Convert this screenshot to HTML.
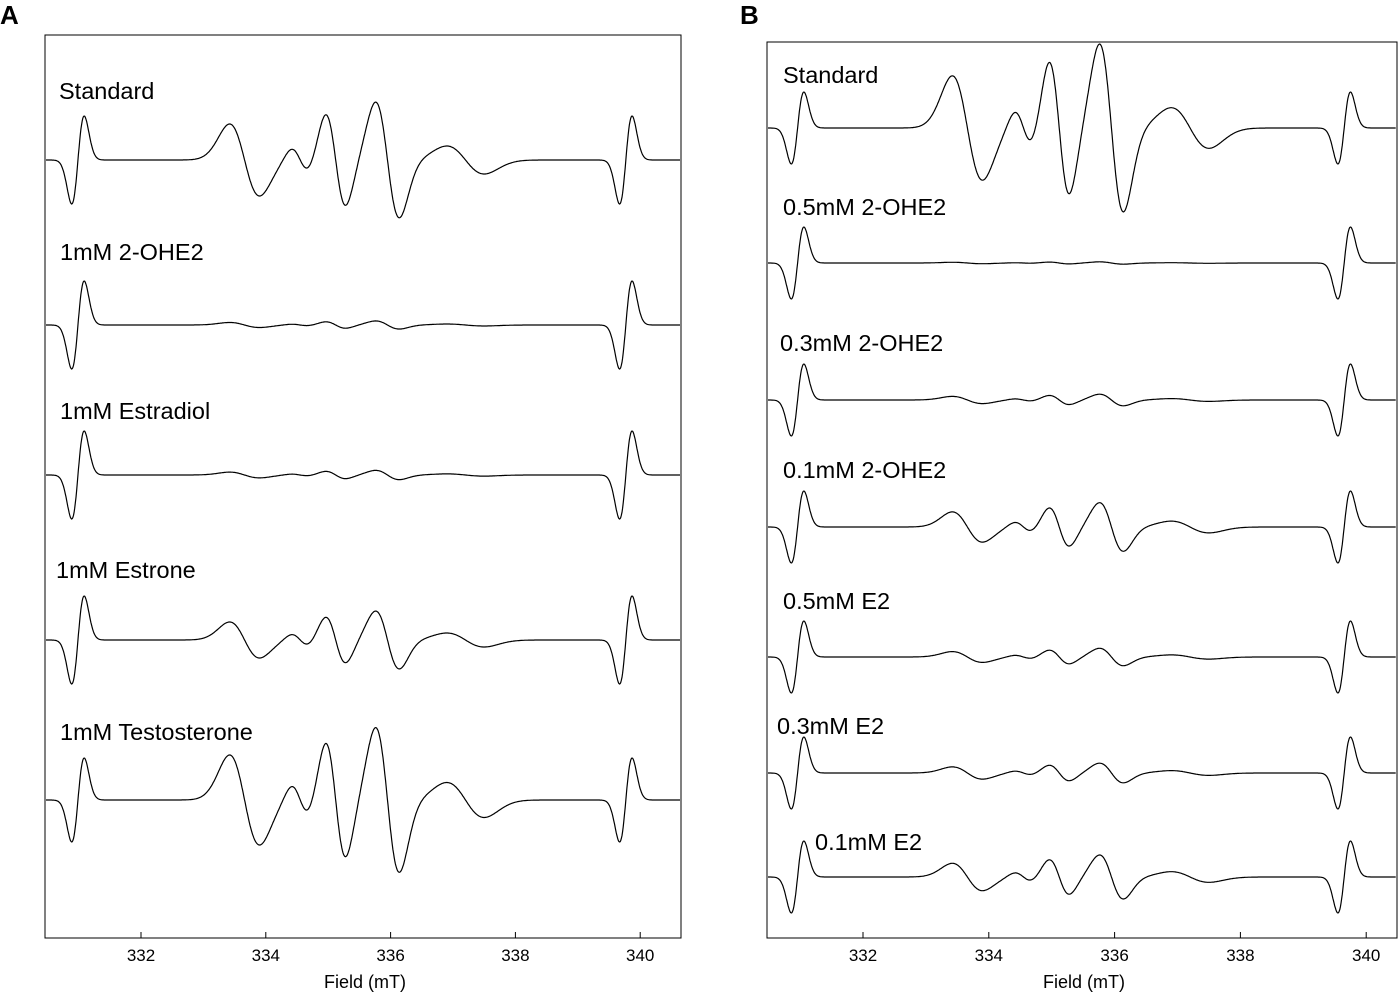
<!DOCTYPE html>
<html><head><meta charset="utf-8">
<style>
html,body{margin:0;padding:0;background:#fff;}
svg{display:block;font-family:"Liberation Sans",Arial,sans-serif;}
</style></head>
<body>
<svg id="fig" width="1400" height="993" viewBox="0 0 1400 993" xmlns="http://www.w3.org/2000/svg">
<text x="0" y="24" font-size="26" font-weight="bold">A</text>
<text x="740" y="24" font-size="26" font-weight="bold">B</text>
</svg>
<script>
// ---- data ----
const tickValues = [332, 334, 336, 338, 340];
const lineCenters = [333.66, 334.55, 335.12, 335.95, 337.2];
const lineWidths = [0.24, 0.14, 0.16, 0.19, 0.3];
const baseLineAmps = [-36, -12, -46, -58, -14];
const markerA = [330.99, 339.77];
const markerB = [330.96, 339.65];
const labelsA = ["Standard", "1mM 2-OHE2", "1mM Estradiol", "1mM Estrone", "1mM Testosterone"];
const scalesA = [1.0, 0.07, 0.08, 0.5, 1.25];
const baselinesA = [160, 325, 475, 640, 800];
const markerAmpA = [44, 44, 44, 44, 42];
const labelsB = ["Standard", "0.5mM 2-OHE2", "0.3mM 2-OHE2", "0.1mM 2-OHE2", "0.5mM E2", "0.3mM E2", "0.1mM E2"];
const scalesB = [1.45, 0.02, 0.1, 0.42, 0.15, 0.17, 0.38];
const baselinesB = [128, 263, 400, 527, 657, 773, 877];
const markerAmpB = [36, 36, 36, 36, 36, 36, 36];

const svg = document.getElementById('fig');
const NS = 'http://www.w3.org/2000/svg';
function mk(tag, attrs){const e=document.createElementNS(NS,tag);for(const k in attrs)e.setAttribute(k,attrs[k]);svg.appendChild(e);return e;}

function drawPanel(p){
  const xs = v => p.x0 + (v - 332) * p.ppm;
  const frame = mk('rect',{x:p.left,y:p.top,width:p.right-p.left,height:p.bottom-p.top,fill:'none',stroke:'#000','stroke-width':1});
  
  
  tickValues.forEach(t=>{
    const x = xs(t);
    const tk = mk('line',{x1:x,x2:x,y1:p.bottom,y2:p.bottom-6,stroke:'#000','stroke-width':1});
    
    
    const tl = mk('text',{x:x,y:p.bottom+23,'font-size':17,'text-anchor':'middle'});
    tl.textContent = t;
    
    
  });
  const at = mk('text',{x:(p.left+p.right)/2+2,y:988,'font-size':18,'text-anchor':'middle'});
  at.textContent = 'Field (mT)';
  
  
  const vmin = 332 + (p.left+1 - p.x0)/p.ppm, vmax = 332 + (p.right-1 - p.x0)/p.ppm;
  p.labels.forEach((lab,i)=>{
    let d='';
    for(let v=vmin; v<=vmax; v+=0.01){
      let f=0;
      p.markers.forEach(c=>{const t=(v-c)/0.1; f += p.mamp[i]*t*Math.exp(-t*t/2)/0.6065;});
      lineCenters.forEach((c,j)=>{const t=(v-c)/lineWidths[j]; f += baseLineAmps[j]*p.scales[i]*t*Math.exp(-t*t/2)/0.6065;});
      const y = p.bases[i] - f;
      d += (d?'L':'M') + xs(v).toFixed(1)+','+y.toFixed(1);
    }
    const path = mk('path',{d:d,fill:'none',stroke:'#000','stroke-width':1.2});
    
    
    const tx = mk('text',{x:p.labelX[i],y:p.labelY[i],'font-size':23.5});
    tx.textContent = lab;
    
    
  });
}
drawPanel({id:'panel-a',left:45,right:681,top:35,bottom:938,x0:141,ppm:62.4,markers:markerA,mamp:markerAmpA,
  labels:labelsA,scales:scalesA,bases:baselinesA,labelX:[59,60,60,56,60],labelY:[99,260,419,578,740]});
drawPanel({id:'panel-b',left:767,right:1397,top:42,bottom:938,x0:863,ppm:62.9,markers:markerB,mamp:markerAmpB,
  labels:labelsB,scales:scalesB,bases:baselinesB,labelX:[783,783,780,783,783,777,815],labelY:[83,215,351,478,609,734,850]});
</script>
</body></html>
